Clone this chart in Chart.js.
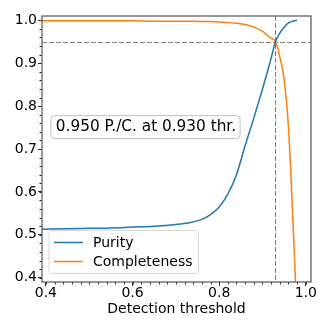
<!DOCTYPE html>
<html>
<head>
<meta charset="utf-8">
<script src="https://cdn.jsdelivr.net/npm/chart.js@4.4.0/dist/chart.umd.min.js"></script>
<style>
  html, body { margin: 0; padding: 0; background: #fff; }
  #wrap { width: 332px; height: 332px; }
</style>
</head>
<body>
<div id="wrap"><canvas id="myChart" width="332" height="332"></canvas></div>
<script>
// detection thresholds and the two curves
const thresholds = [0.39, 0.45, 0.5, 0.55, 0.6, 0.65, 0.7, 0.73, 0.76, 0.78, 0.8, 0.82, 0.84, 0.86, 0.88, 0.9, 0.91, 0.92, 0.93, 0.94, 0.95, 0.96, 0.97, 0.98];
const purity = [0.513, 0.514, 0.515, 0.516, 0.518, 0.520, 0.524, 0.528, 0.536, 0.547, 0.565, 0.595, 0.640, 0.708, 0.772, 0.840, 0.875, 0.912, 0.950, 0.970, 0.984, 0.994, 0.998, 1.0];
const completeness = [0.999, 0.999, 0.999, 0.999, 0.999, 0.998, 0.998, 0.998, 0.997, 0.997, 0.996, 0.995, 0.993, 0.990, 0.984, 0.974, 0.966, 0.958, 0.950, 0.915, 0.862, 0.752, 0.540, 0.300];

const xTicks = [0.4, 0.6, 0.8, 1.0];
const yTicks = [0.4, 0.5, 0.6, 0.7, 0.8, 0.9, 1.0];
const xMinor = [];
for (let i = 20; i <= 50; i++) xMinor.push(i / 50);
const yMinor = [];
for (let i = 20; i <= 50; i++) yMinor.push(i / 50);

const bestValue = 0.950;
const bestThr = 0.930;
const labelText = bestValue.toFixed(3) + ' P./C. at ' + bestThr.toFixed(3) + ' thr.';

const FONT = 'DejaVu Sans';

function pts(ys) {
    return thresholds.map((x, i) => ({ x: x, y: ys[i] }));
}

function roundRect(ctx, x, y, w, h, r) {
    ctx.beginPath();
    ctx.moveTo(x + r, y);
    ctx.lineTo(x + w - r, y);
    ctx.arcTo(x + w, y, x + w, y + r, r);
    ctx.lineTo(x + w, y + h - r);
    ctx.arcTo(x + w, y + h, x + w - r, y + h, r);
    ctx.lineTo(x + r, y + h);
    ctx.arcTo(x, y + h, x, y + h - r, r);
    ctx.lineTo(x, y + r);
    ctx.arcTo(x, y, x + r, y, r);
    ctx.closePath();
}

// dashed crosshair, frame, minor ticks, text box and legend
const extras = {
    id: 'extras',
    beforeDatasetsDraw(chart) {
        const ctx = chart.ctx;
        const a = chart.chartArea;
        const xs = chart.scales.x, ys = chart.scales.y;
        ctx.save();
        ctx.strokeStyle = '#7f7f7f';
        ctx.lineWidth = 1;
        ctx.setLineDash([5, 2]);
        const hy = Math.round(ys.getPixelForValue(bestValue)) + 0.5;
        ctx.beginPath(); ctx.moveTo(a.left, hy); ctx.lineTo(a.right, hy); ctx.stroke();
        const vx = Math.round(xs.getPixelForValue(bestThr)) + 0.5;
        ctx.beginPath(); ctx.moveTo(vx, a.top); ctx.lineTo(vx, a.bottom); ctx.stroke();
        ctx.restore();
    },
    afterDraw(chart) {
        const ctx = chart.ctx;
        const a = chart.chartArea;
        const xs = chart.scales.x, ys = chart.scales.y;
        ctx.save();

        // minor ticks
        ctx.strokeStyle = '#333';
        ctx.lineWidth = 1;
        xMinor.forEach(v => {
            const px = Math.round(xs.getPixelForValue(v)) + 0.5;
            if (px < a.left || px > a.right) return;
            ctx.beginPath(); ctx.moveTo(px, a.bottom); ctx.lineTo(px, a.bottom + 2.5); ctx.stroke();
        });
        yMinor.forEach(v => {
            const py = Math.round(ys.getPixelForValue(v)) + 0.5;
            if (py < a.top || py > a.bottom) return;
            ctx.beginPath(); ctx.moveTo(a.left, py); ctx.lineTo(a.left - 2.5, py); ctx.stroke();
        });

        // frame
        ctx.strokeStyle = '#555';
        ctx.lineWidth = 1.2;
        ctx.strokeRect(a.left, a.top, a.right - a.left, a.bottom - a.top);

        // annotation box
        ctx.font = '15.3px "' + FONT + '"';
        ctx.textBaseline = 'middle';
        ctx.textAlign = 'left';
        const tx = xs.getPixelForValue(0.423);
        const ty = ys.getPixelForValue(0.751);
        const tw = ctx.measureText(labelText).width;
        roundRect(ctx, tx - 5, ty - 11.5, tw + 9, 23, 4);
        ctx.fillStyle = 'rgba(255,255,255,0.9)';
        ctx.fill();
        ctx.strokeStyle = '#c0c0c0';
        ctx.lineWidth = 1;
        ctx.stroke();
        ctx.fillStyle = '#000';
        ctx.fillText(labelText, tx, ty);

        // legend
        ctx.font = '14px "' + FONT + '"';
        const lx = a.left + 7, ly = 230.5;
        const items = chart.data.datasets;
        let maxW = 0;
        items.forEach(d => { maxW = Math.max(maxW, ctx.measureText(d.label).width); });
        roundRect(ctx, lx, ly, 44 + maxW + 6, 43, 3);
        ctx.fillStyle = 'rgba(255,255,255,0.8)';
        ctx.fill();
        ctx.strokeStyle = '#d8d8d8';
        ctx.stroke();
        items.forEach((d, i) => {
            const cy = ly + 12 + i * 19;
            ctx.strokeStyle = d.borderColor;
            ctx.lineWidth = 1.5;
            ctx.beginPath(); ctx.moveTo(lx + 5, cy); ctx.lineTo(lx + 34, cy); ctx.stroke();
            ctx.fillStyle = '#000';
            ctx.fillText(d.label, lx + 44, cy + 0.5);
        });
        ctx.restore();
    }
};

const config = {
    type: 'line',
    data: {
        datasets: [{
            label: 'Purity',
            data: pts(purity),
            borderColor: '#1f77b4',
            backgroundColor: '#1f77b4',
            borderWidth: 1.5,
            pointRadius: 0,
            cubicInterpolationMode: 'monotone'
        }, {
            label: 'Completeness',
            data: pts(completeness),
            borderColor: '#ff7f0e',
            backgroundColor: '#ff7f0e',
            borderWidth: 1.5,
            pointRadius: 0,
            cubicInterpolationMode: 'monotone'
        }]
    },
    options: {
        responsive: false,
        animation: false,
        events: [],
        layout: { padding: { top: 16, right: 21, left: 0, bottom: 0 } },
        plugins: {
            legend: { display: false },
            tooltip: { enabled: false }
        },
        scales: {
            x: {
                type: 'linear',
                min: 0.391,
                max: 1.012,
                afterFit: s => { s.height = 50; },
                afterBuildTicks: s => { s.ticks = xTicks.map(v => ({ value: v })); },
                grid: { drawOnChartArea: false, tickLength: 4, color: '#333', tickWidth: 1 },
                border: { display: false },
                ticks: {
                    padding: 0,
                    color: '#000',
                    font: { family: FONT, size: 14, lineHeight: 1 },
                    maxRotation: 0,
                    callback: v => v.toFixed(1)
                },
                title: {
                    display: true,
                    text: 'Detection threshold',
                    color: '#000',
                    font: { family: FONT, size: 14 },
                    padding: { top: 0, bottom: 14.5 }
                }
            },
            y: {
                type: 'linear',
                min: 0.39,
                max: 1.01,
                afterFit: s => { s.width = 42; },
                afterBuildTicks: s => { s.ticks = yTicks.map(v => ({ value: v })); },
                grid: { drawOnChartArea: false, tickLength: 4, color: '#333', tickWidth: 1 },
                border: { display: false },
                ticks: {
                    padding: 1,
                    color: '#000',
                    font: { family: FONT, size: 14 },
                    callback: v => v.toFixed(1)
                }
            }
        }
    },
    plugins: [extras]
};

const myChart = new Chart(document.getElementById('myChart'), config);
</script>
</body>
</html>
